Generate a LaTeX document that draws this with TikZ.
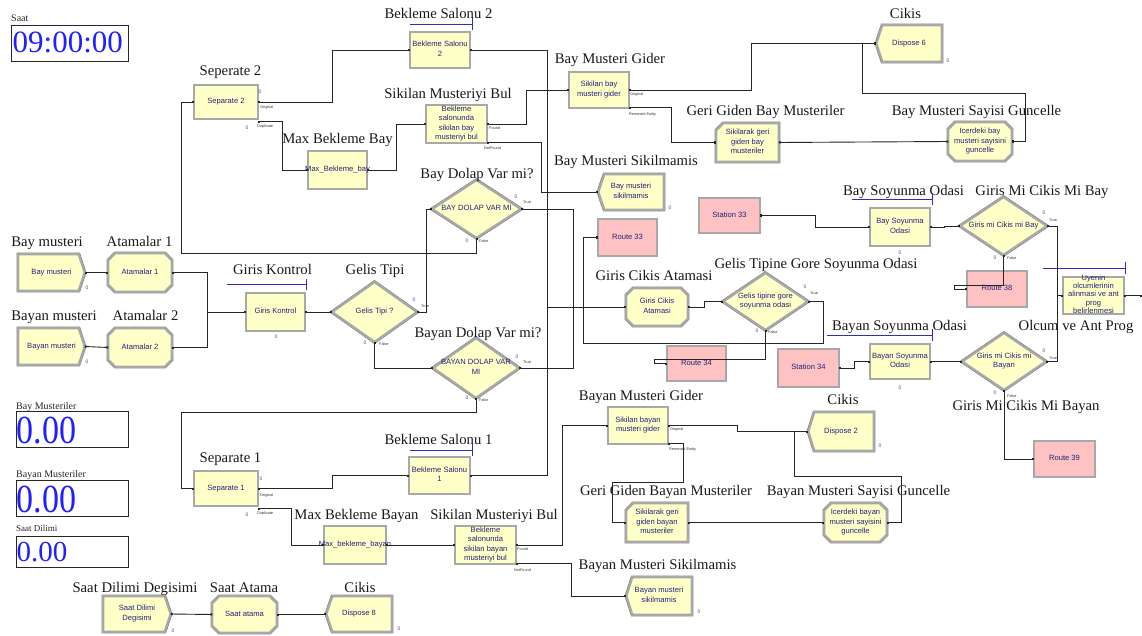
\documentclass[tikz,border=0pt]{standalone}
\usepackage{fontspec}
\usepackage{graphicx}
\setmainfont{Liberation Serif}
\newfontfamily\modfont{Liberation Sans}
\usetikzlibrary{calc,arrows.meta}
\pgfdeclarelayer{bg}
\pgfdeclarelayer{paper}
\pgfsetlayers{paper,bg,main}

\definecolor{modfill}{HTML}{FFFFC8}
\definecolor{pinkfill}{HTML}{FFC2C2}
\definecolor{framegray}{HTML}{A8A8A8}
\definecolor{framedark}{HTML}{7C7C7C}
\definecolor{modtext}{HTML}{22227A}
\definecolor{digit}{HTML}{2020FF}
\definecolor{cntcol}{HTML}{5A3C9A}
\definecolor{resline}{HTML}{2E2EB8}

% centred multi-line module text that never enlarges its node
\newcommand\mt[1]{\smash{\makebox[0pt]{\raisebox{-1.6pt}{\begin{tabular}{@{}c@{}}#1\end{tabular}}}}}

\tikzset{
  sz/.style 2 args={minimum width=#1, minimum height=#2},
  mod/.style={rectangle, inner sep=0pt, outer sep=0pt,
    font=\modfont\fontsize{7.6}{9.6}\selectfont, text=modtext},
  rim/.style={preaction={draw=framedark, line width=3.3pt}},
  boxmod/.style={mod, rim, draw=framegray, line width=2.4pt, fill=modfill},
  pinkmod/.style={boxmod, fill=pinkfill},
  frameline/.style={rim, draw=framegray, line width=2.4pt, fill=modfill, line join=miter},
  lbl/.style={font=\fontsize{14.7}{16}\selectfont, text=black!90, inner sep=0pt, anchor=base},
  portlbl/.style={font=\modfont\fontsize{3.8}{4}\selectfont, inner sep=0pt, anchor=west, text=black!80},
  cnt/.style={font=\modfont\fontsize{5}{5}\selectfont, text=cntcol, inner sep=0pt},
  conn/.style={draw=black!85, line width=0.9pt,
    arrows={Square[length=2pt,width=2pt]-Square[length=2pt,width=2pt]}},
  disp/.style={draw=black!85, line width=0.9pt, inner sep=0pt},
  dispcap/.style={font=\fontsize{10}{10}\selectfont, inner sep=0pt, anchor=base west, text=black!85},
  dispnum/.style={text=digit, inner sep=0pt, anchor=base west},
  resbar/.style={draw=resline, line width=0.9pt},
}

% module outlines drawn behind the text
\newcommand\modoutline[1]{\begin{pgfonlayer}{bg}\path[frameline] #1;\end{pgfonlayer}}
\newcommand\mkcreate[1]{\modoutline{(#1.north west) -- ([xshift=-6pt]#1.north east) -- (#1.east) -- ([xshift=-6pt]#1.south east) -- (#1.south west) -- cycle}}
\newcommand\mkdispose[1]{\modoutline{(#1.west) -- ([xshift=6pt]#1.north west) -- (#1.north east) -- (#1.south east) -- ([xshift=6pt]#1.south west) -- cycle}}
\newcommand\mkassign[1]{\modoutline{([xshift=7pt]#1.north west) -- ([xshift=-7pt]#1.north east) -- ([yshift=-7pt]#1.north east) -- ([yshift=7pt]#1.south east) -- ([xshift=-7pt]#1.south east) -- ([xshift=7pt]#1.south west) -- ([yshift=7pt]#1.south west) -- ([yshift=-7pt]#1.north west) -- cycle}}
\newcommand\mkrecord[1]{\modoutline{([xshift=7pt]#1.north west) -- (#1.north east) -- (#1.south east) -- (#1.south west) -- ([yshift=-7pt]#1.north west) -- cycle}}
\newcommand\mkdecide[1]{\modoutline{(#1.west) -- (#1.north) -- (#1.east) -- (#1.south) -- cycle}}

\begin{document}
\begin{tikzpicture}[x=1pt,y=-1pt]
\useasboundingbox (0,0) rectangle (1142,636);
\begin{pgfonlayer}{paper}
\fill[white] (0,0) rectangle (1142,636);
\end{pgfonlayer}

% ---------- variable displays ----------
\node[disp, sz={117}{36}] (saatbox) at (70,43.5) {};
\node[dispcap] (saatcap) at (11,22) {Saat};
\node[dispnum, font=\fontsize{31}{31}\selectfont] (saatval) at (12.5,53) {09:00:00};

\node[disp, sz={112}{36}] (baybox) at (72.5,429.5) {};
\node[dispcap] (baycap) at (16,409) {Bay Musteriler};
\node[dispnum, font=\fontsize{34}{34}\selectfont] (bayval) at (16.5,443) {\scalebox{1}[1.17]{0.00}};

\node[disp, sz={112}{36}] (bayanbox) at (72.5,498.5) {};
\node[dispcap] (bayancap) at (16,477) {Bayan Musteriler};
\node[dispnum, font=\fontsize{34}{34}\selectfont] (bayanval) at (16.5,512) {\scalebox{1}[1.17]{0.00}};

\node[disp, sz={112}{31}] (dilimbox) at (72.5,552) {};
\node[dispcap, font=\fontsize{9}{9}\selectfont] (dilimcap) at (16,531) {Saat Dilimi};
\node[dispnum, font=\fontsize{29}{29}\selectfont] (dilimval) at (16.5,561) {0.00};

% ---------- modules ----------
\node[boxmod, sz={63.5}{33.5}] (sep2) at (226,102) {\mt{Separate 2}};
\node[boxmod, sz={59.5}{35.5}] (bs2) at (440,50) {\mt{Bekleme Salonu\\2}};
\node[boxmod, sz={58.5}{37.5}] (mbb) at (337.5,170) {\mt{Max\_Bekleme\_bay}};
\node[boxmod, sz={60.5}{37.5}] (sbb) at (456.5,124) {\mt{Bekleme\\salonunda\\sikilan bay\\musteriyi bul}};
\node[mod, sz={89}{58}] (bd) at (476.5,209) {\mt{BAY DOLAP VAR MI}}; \mkdecide{bd}

\node[mod, sz={66.5}{36.5}] (baym) at (51.5,272.5) {\mt{Bay musteri}}; \mkcreate{baym}
\node[mod, sz={63.5}{38.5}] (at1) at (140,272.5) {\mt{Atamalar 1}}; \mkassign{at1}
\node[mod, sz={66.5}{36.5}] (bayanm) at (51.5,346.5) {\mt{Bayan musteri}}; \mkcreate{bayanm}
\node[mod, sz={63.5}{38.5}] (at2) at (140,347.5) {\mt{Atamalar 2}}; \mkassign{at2}
\node[boxmod, sz={58.5}{37.5}] (gk) at (275.5,312) {\mt{Giris Kontrol}};
\node[mod, sz={85}{60}] (gt) at (374.5,312) {\mt{Gelis Tipi ?}}; \mkdecide{gt}
\node[mod, sz={86}{60}] (bnd) at (476,368) {\mt{BAYAN DOLAP VAR\\MI}}; \mkdecide{bnd}

\node[boxmod, sz={63.5}{34.5}] (sep1) at (226,488.5) {\mt{Separate 1}};
\node[boxmod, sz={60.5}{36.5}] (bs1) at (439.5,475.5) {\mt{Bekleme Salonu\\1}};
\node[boxmod, sz={61.5}{37.5}] (mbby) at (355,545) {\mt{Max\_bekleme\_bayan}};
\node[boxmod, sz={60.5}{37.5}] (sbyb) at (485.5,545) {\mt{Bekleme\\salonunda\\sikilan bayan\\musteriyi bul}};

\node[boxmod, sz={59.5}{35.5}] (bmg) at (599,90) {\mt{Sikilan bay\\musteri gider}};
\node[mod, sz={62.5}{38.5}] (ggb) at (747.5,142.5) {\mt{Sikilarak geri\\giden bay\\musteriler}}; \mkrecord{ggb}
\node[mod, sz={63.5}{38.5}] (bmsg) at (980,141.5) {\mt{Icerdeki bay\\musteri sayisini\\guncelle}}; \mkassign{bmsg}
\node[mod, sz={65.5}{36.5}] (d6) at (909,43.5) {\mt{Dispose 6}}; \mkdispose{d6}
\node[mod, sz={65.5}{35.5}] (bms) at (631,192) {\mt{Bay musteri\\sikilmamis}}; \mkdispose{bms}

\node[pinkmod, sz={58.5}{36.5}] (r33) at (627.5,237.5) {\mt{Route 33}};
\node[pinkmod, sz={60.5}{34.5}] (st33) at (729.5,215.5) {\mt{Station 33}};
\node[mod, sz={61.5}{37.5}] (gca) at (657,307) {\mt{Giris Cikis\\Atamasi}}; \mkassign{gca}
\node[mod, sz={85}{57}] (gtg) at (765.5,301.5) {\mt{Gelis tipine gore\\soyunma odasi}}; \mkdecide{gtg}
\node[pinkmod, sz={58.5}{34.5}] (r34) at (696.5,363.5) {\mt{Route 34}};
\node[pinkmod, sz={60.5}{37.5}] (st34) at (808.5,368) {\mt{Station 34}};

\node[boxmod, sz={59.5}{37.5}] (bso) at (900,227) {\mt{Bay Soyunma\\Odasi}};
\node[mod, sz={87}{58}] (gcb) at (1003.5,226) {\mt{Giris mi Cikis mi Bay}}; \mkdecide{gcb}
\node[pinkmod, sz={59.5}{35.5}] (r38) at (997,289) {\mt{Route 38}};
\node[boxmod, sz={60.5}{36.5}, font=\modfont\fontsize{7.6}{8.3}\selectfont] (olc) at (1093.5,295.5) {\mt{Uyenin\\olcumlerinin\\alinmasi ve ant\\prog\\belirlenmesi}};
\node[boxmod, sz={59.5}{34.5}] (byso) at (900,361.5) {\mt{Bayan Soyunma\\Odasi}};
\node[mod, sz={84}{57}] (gcby) at (1004,361.5) {\mt{Giris mi Cikis mi\\Bayan}}; \mkdecide{gcby}
\node[pinkmod, sz={60.5}{35.5}] (r39) at (1064.5,459) {\mt{Route 39}};

\node[boxmod, sz={59.5}{36.5}] (bymg) at (638,425.5) {\mt{Sikilan bayan\\musteri gider}};
\node[mod, sz={65.5}{38.5}] (d2) at (841,431.5) {\mt{Dispose 2}}; \mkdispose{d2}
\node[mod, sz={61.5}{38.5}] (ggby) at (657,522.5) {\mt{Sikilarak geri\\giden bayan\\musteriler}}; \mkrecord{ggby}
\node[mod, sz={62.5}{38.5}] (bymsg) at (855.5,522.5) {\mt{Icerdeki bayan\\musteri sayisini\\guncelle}}; \mkassign{bymsg}
\node[mod, sz={65.5}{37.5}] (byms) at (659,596) {\mt{Bayan musteri\\sikilmamis}}; \mkdispose{byms}

\node[mod, sz={67.5}{35.5}] (sdd) at (137,614) {\mt{Saat Dilimi\\Degisimi}}; \mkcreate{sdd}
\node[mod, sz={64.5}{36.5}] (sa) at (244.5,614.5) {\mt{Saat atama}}; \mkassign{sa}
\node[mod, sz={65.5}{35.5}] (d8) at (359,614) {\mt{Dispose 8}}; \mkdispose{d8}

\coordinate (olcout) at (1142,295.5);

% ---------- module titles ----------
\foreach \x/\y/\t [count=\i] in {
  230.5/75.5/Seperate 2, 438.5/18.5/Bekleme Salonu 2, 448/98.5/Sikilan Musteriyi Bul,
  337.5/143.5/Max Bekleme Bay, 477/178.5/Bay Dolap Var mi?, 610/63.5/Bay Musteri Gider,
  765.5/115.5/Geri Giden Bay Musteriler, 626/165.5/Bay Musteri Sikilmamis, 905.5/18.5/Cikis,
  976.5/115.5/Bay Musteri Sayisi Guncelle, 903.5/195.5/Bay Soyunma Odasi,
  1042/195.5/Giris Mi Cikis Mi Bay, 47/246.5/Bay musteri, 139.5/246.5/Atamalar 1,
  54/320.5/Bayan musteri, 145.5/320.5/Atamalar 2, 272.5/274.5/Giris Kontrol,
  375/274.5/Gelis Tipi, 478/337.5/Bayan Dolap Var mi?, 654/280.5/Giris Cikis Atamasi,
  816/268.5/Gelis Tipine Gore Soyunma Odasi, 899.5/330.5/Bayan Soyunma Odasi,
  1076/330.5/Olcum ve Ant Prog, 1026/410.5/Giris Mi Cikis Mi Bayan,
  641/400.5/Bayan Musteri Gider, 843/404.5/Cikis, 230.5/462.5/Separate 1,
  438.5/444.5/Bekleme Salonu 1, 356.5/519.5/Max Bekleme Bayan, 494/519.5/Sikilan Musteriyi Bul,
  666/495.5/Geri Giden Bayan Musteriler, 858.5/495.5/Bayan Musteri Sayisi Guncelle,
  657.5/569.5/Bayan Musteri Sikilmamis, 135/592.5/Saat Dilimi Degisimi,
  244/592.5/Saat Atama, 360/592.5/Cikis}
  {\node[lbl] (title\i) at (\x,\y) {\t};}

% ---------- resource bars ----------
\draw[resbar] (410,24) -- (472,24) (472,18) -- (472,30);
\draw[resbar] (410,450) -- (472,450) (472,443) -- (472,456);
\draw[resbar] (227,284) -- (306,284) (306,279) -- (306,290);
\draw[resbar] (852,199) -- (932,199) (932,193) -- (932,205);
\draw[resbar] (827,335) -- (932,335) (932,329) -- (932,341);
\draw[resbar] (1043,268) -- (1125,268) (1125,262) -- (1125,274);

% ---------- connectors ----------
\draw[conn] (baym.east) -- (at1.west);
\draw[conn] (bayanm.east) -- (at2.west);
\draw[conn] (at1.east) -- ++(36,0) |- (gk.west);
\draw[conn] (at2.east) -- ++(36,0) |- (gk.west);
\draw[conn] (gk.east) -- (gt.west);
\draw[conn] (gt.east) -- ++(9,0) |- (bd.west);
\draw[conn] (gt.south) |- (bnd.west);
\draw[conn] (bd.south) -- ++(0,15) -| ($(sep2.west)+(-13,0)$) -- (sep2.west);
\draw[conn] (bnd.south) -- ++(0,14) -| ($(sep1.west)+(-13,0)$) -- (sep1.west);
\draw[conn] (bd.east) -- ++(52,0) |- (gca.west);
\draw[conn] (bnd.east) -- ++(54,0) |- (gca.west);

\draw[conn] (sep2.east) -- ++(75,0) |- (bs2.west);
\draw[conn] ([yshift=-3pt]sep2.south east) -- ++(25,0) |- (mbb.west);
\draw[conn] (mbb.east) -- ++(30,0) |- (sbb.west);
\draw[conn] (sbb.east) -- ++(40,0) |- (bmg.west);
\draw[conn] (sbb.south east) -- ++(55,0) |- (bms.west);
\draw[conn] (bs2.east) -- ++(78,0) |- (gca.west);

\draw[conn] (sep1.east) -- ++(75,0) |- (bs1.west);
\draw[conn] ([yshift=-3pt]sep1.south east) -- ++(34,0) |- (mbby.west);
\draw[conn] (mbby.east) -- (sbyb.west);
\draw[conn] (sbyb.east) -- ++(47,0) |- (bymg.west);
\draw[conn] (sbyb.south east) -- ++(56,0) |- (byms.west);
\draw[conn] (bs1.east) -- ++(78,0) |- (gca.west);

\draw[conn] (bmg.east) -- ++(123,0) |- (d6.west);
\draw[conn] (bmg.south east) -- ++(43,0) |- (ggb.west);
\draw[conn] (ggb.east) -- (bmsg.west);
\draw[conn] (bmsg.east) -- ++(14,0) |- ($(d6.west)+(-14,50)$) |- (d6.west);

\draw[conn] (bymg.east) -- ++(70,0) |- (d2.west);
\draw[conn] (bymg.south east) -- ++(16,0) -- ++(0,39) -| ($(ggby.west)+(-14,0)$) -- (ggby.west);
\draw[conn] (ggby.east) -- (bymsg.west);
\draw[conn] (bymsg.east) -- ++(15,0) |- ($(d2.west)+(-14,45)$) |- (d2.west);

\draw[conn] (gca.east) -- ++(17,0) |- (gtg.west);
\draw[conn] (gtg.east) -- ++(15,0) -- ++(0,42) -| ($(r33.west)+(-15,0)$) -- (r33.west);
\draw[conn] (gtg.south) -- ++(0,29) -| ($(r34.west)+(-13,0)$) -- (r34.west);
\draw[conn] (st33.east) -- ++(56,0) |- (bso.west);
\draw[conn] (st34.east) -- ++(16,0) |- (byso.west);
\draw[conn] (bso.east) -- ++(15,0) |- (gcb.west);
\draw[conn] (byso.east) -- (gcby.west);
\draw[conn] (gcb.east) -- ++(10,0) |- (olc.west);
\draw[conn] (gcby.east) -- ++(11,0) |- (olc.west);
\draw[conn] (gcb.south) -- ++(0,30) -| ($(r38.west)+(-13,0)$) -- (r38.west);
\draw[conn] (gcby.south) |- (r39.west);
\draw[conn] (olc.east) -- (olcout);

\draw[conn] (sdd.east) -- (sa.west);
\draw[conn] (sa.east) -- ++(24,0) |- (d8.west);

% ---------- exit point names ----------
\foreach \x/\y/\t [count=\i] in {
  260/108/Original, 257/127/Duplicate, 260/496/Original, 257/514/Duplicate,
  489/128/Found, 484/148/NotFound, 517/549/Found, 514/570/NotFound,
  630/95/Original, 629/115/Removed Entity, 670/430/Original, 669/450/Removed Entity,
  421/306/True, 379/344/False, 523/202/True, 479/241/False, 523/362/True, 479/400/False,
  810/293/True, 768/332/False, 1049/220/True, 1007/258/False, 1049/358/True, 1007/396/False}
  {\node[portlbl] (port\i) at (\x,\y) {\t};}

% ---------- entity counters ----------
\foreach \x/\y [count=\i] in {
  260/92, 247/128, 261/479, 247/515, 87/288, 87/362, 173/631, 276/337,
  900/253, 900/388, 414/300, 365/343, 516/197, 467/241, 517/357, 467/398,
  805/287, 757/331, 1044/213, 995/258, 1044/351, 995/393,
  948/61, 670/208, 880/446, 699/612, 399/629}
  {\node[cnt] (count\i) at (\x,\y) {0};}
\end{tikzpicture}
\end{document}
